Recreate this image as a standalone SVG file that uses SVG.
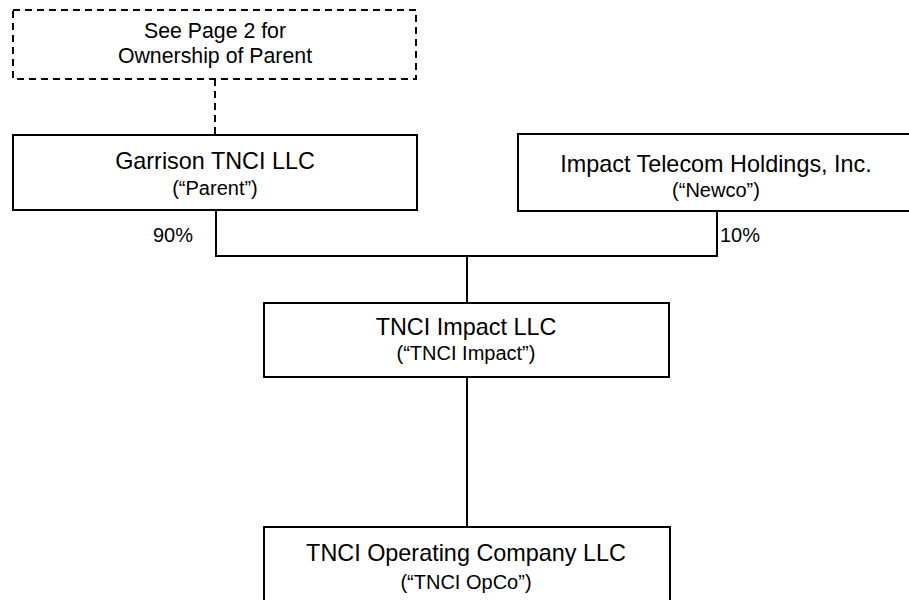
<svg xmlns="http://www.w3.org/2000/svg" width="909" height="600" viewBox="0 0 909 600">
<style>
.box{fill:#fff;stroke:#000;stroke-width:2}
.dash{fill:#fff;stroke:#000;stroke-width:2;stroke-dasharray:7,5}
.ln{fill:none;stroke:#000;stroke-width:2}
.dl{fill:none;stroke:#000;stroke-width:2;stroke-dasharray:7,5}
text{font-family:"Liberation Sans",Arial,sans-serif;fill:#000;text-anchor:middle}
.t1{font-size:23.4px}
.t2{font-size:20px}
.t3{font-size:21.3px}
.pct{font-size:20px;text-anchor:start}
</style>
<rect width="909" height="600" fill="#fff"/>
<g id="connectors">
<line class="dl" x1="215" y1="79" x2="215" y2="135"/>
<polyline class="ln" points="216,210 216,256 717,256 717,211"/>
<line class="ln" x1="467" y1="256" x2="467" y2="303"/>
<line class="ln" x1="467" y1="377" x2="467" y2="527"/>
</g>
<g id="ownership-note">
<rect class="dash" x="13" y="10" width="403" height="69"/>
<text class="t3" x="215" y="38">See Page 2 for</text>
<text class="t3" x="215" y="63">Ownership of Parent</text>
</g>
<g id="parent">
<rect class="box" x="13" y="135" width="404" height="75"/>
<text class="t1" x="215" y="169">Garrison TNCI LLC</text>
<text class="t2" x="215" y="195">(“Parent”)</text>
</g>
<g id="newco">
<rect class="box" x="518" y="134" width="398" height="77"/>
<text class="t1" x="716" y="172">Impact Telecom Holdings, Inc.</text>
<text class="t2" x="716" y="197">(“Newco”)</text>
</g>
<g id="pct-labels">
<text class="pct" x="153" y="242">90%</text>
<text class="pct" x="720" y="242">10%</text>
</g>
<g id="tnci-impact">
<rect class="box" x="264" y="303" width="405" height="74"/>
<text class="t1" x="466" y="335">TNCI Impact LLC</text>
<text class="t2" x="466" y="360">(“TNCI Impact”)</text>
</g>
<g id="tnci-opco">
<rect class="box" x="264" y="527" width="406" height="90"/>
<text class="t1" x="466" y="561">TNCI Operating Company LLC</text>
<text class="t2" x="466" y="589">(“TNCI OpCo”)</text>
</g>
</svg>
